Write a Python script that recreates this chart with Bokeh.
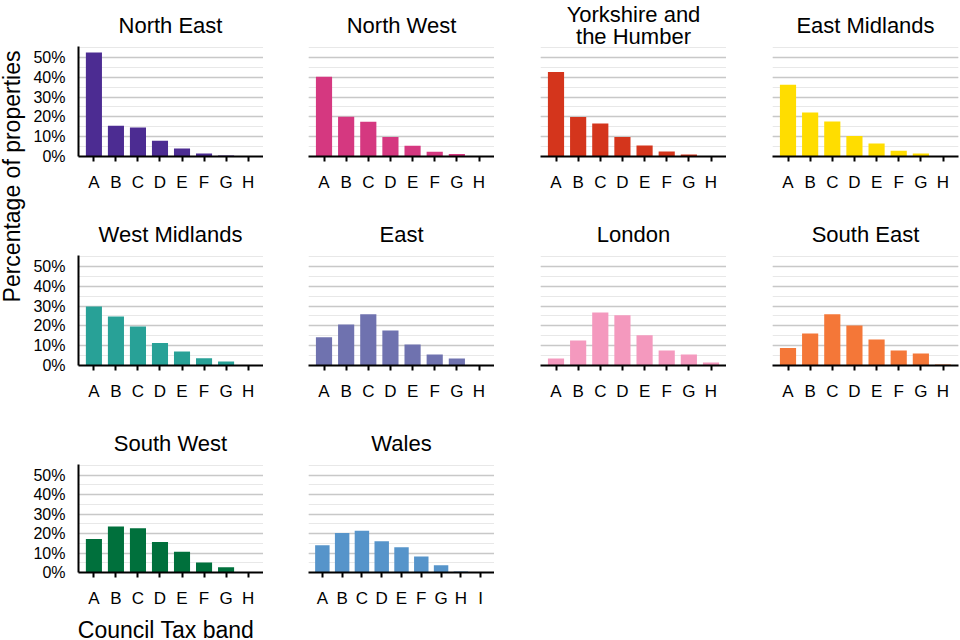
import math
from bokeh.plotting import figure
from bokeh.layouts import row, column
from bokeh.models import (FactorRange, Range1d, SingleIntervalTicker,
                          PrintfTickFormatter, ColumnDataSource)
from bokeh.core.properties import value
from bokeh.embed import file_html
from bokeh.resources import INLINE

# ---------------- data ----------------
bands = ["A", "B", "C", "D", "E", "F", "G", "H"]
bands_wales = ["A", "B", "C", "D", "E", "F", "G", "H", "I"]

region_names = ["North East", "North West", "Yorkshire and\nthe Humber", "East Midlands",
                "West Midlands", "East", "London", "South East",
                "South West", "Wales"]

north_east = [52.5, 15.5, 14.6, 7.9, 4.0, 1.5, 0.5, 0.1]
north_west = [40.2, 20.0, 17.5, 9.9, 5.4, 2.4, 1.3, 0.1]
yorkshire = [42.6, 19.9, 16.7, 9.8, 5.6, 2.5, 1.0, 0.1]
east_midlands = [36.2, 22.2, 17.7, 10.4, 6.6, 2.9, 1.5, 0.1]
west_midlands = [29.8, 24.7, 19.7, 11.3, 7.1, 3.7, 2.0, 0.1]
east = [14.3, 20.7, 25.8, 17.7, 10.6, 5.6, 3.5, 0.2]
london = [3.5, 12.6, 26.8, 25.3, 15.2, 7.6, 5.6, 1.5]
south_east = [8.8, 16.2, 25.8, 20.2, 13.1, 7.6, 6.1, 0.5]
south_west = [17.2, 23.7, 22.7, 15.7, 10.7, 5.2, 2.7, 0.2]
wales = [14.0, 20.3, 21.5, 16.0, 13.0, 8.2, 3.7, 0.5, 0.1]

region_values = [north_east, north_west, yorkshire, east_midlands,
                 west_midlands, east, london, south_east, south_west, wales]
region_bands = [bands] * 9 + [bands_wales]
region_colors = ["#4c2c92", "#d53880", "#d4351c", "#ffdd00",
                 "#28a197", "#6f72af", "#f499be", "#f47738",
                 "#00703c", "#5694ca"]

y_label = "Percentage of properties"
x_label = "Council Tax band"

# ---------------- styling / geometry ----------------
FONT = "Liberation Sans"
FW, FH = 186, 110
STRIP_W = 30
col_left = [47, 45, 46, 46]
col_right = [0, 0, 0, 1]
PANEL_TOP = 0
row_bottom = [53, 53, 36]
TITLE_H = 46
TITLE_Y = 21          # title centre above strip bottom
XLAB_H = 29


def make_panel(k):
    r, c = divmod(k, 4)
    cats = region_bands[k]
    src = ColumnDataSource(dict(band=cats, pct=region_values[k]))
    lb, rb = col_left[c], col_right[c]
    bb = row_bottom[r]
    p = figure(width=lb + FW + rb, height=PANEL_TOP + FH + bb,
               x_range=FactorRange(factors=cats, range_padding=0.2,
                                   range_padding_units="absolute"),
               y_range=Range1d(0, 55.5),
               toolbar_location=None, output_backend="svg",
               min_border_left=lb, min_border_right=rb,
               min_border_top=PANEL_TOP, min_border_bottom=bb,
               outline_line_color=None, background_fill_color="white",
               border_fill_color="white")
    p.vbar(x="band", top="pct", width=0.73, source=src,
           fill_color=region_colors[k], line_color=None)

    ticker = SingleIntervalTicker(interval=10, num_minor_ticks=2)
    p.yaxis.ticker = ticker
    p.ygrid.ticker = ticker
    p.ygrid.grid_line_color = "#c8c8c8"
    p.ygrid.grid_line_width = 1.3
    p.ygrid.minor_grid_line_color = "#e8e8e8"
    p.ygrid.minor_grid_line_width = 1
    p.xgrid.grid_line_color = None

    xa = p.xaxis[0]
    xa.axis_line_color = "black"
    xa.axis_line_width = 2
    xa.major_tick_line_color = "black"
    xa.major_tick_line_width = 2
    xa.major_tick_out = 5
    xa.major_tick_in = 0
    xa.minor_tick_line_color = None
    xa.major_label_standoff = 11
    xa.major_label_text_font = FONT
    xa.major_label_text_font_size = "17px"
    xa.major_label_text_color = "black"

    ya = p.yaxis[0]
    if c == 0:
        ya.axis_line_color = "black"
        ya.axis_line_width = 2
        ya.major_tick_line_color = None
        ya.minor_tick_line_color = None
        ya.major_tick_out = 0
        ya.major_tick_in = 0
        ya.minor_tick_out = 0
        ya.minor_tick_in = 0
        ya.major_label_standoff = 13
        ya.formatter = PrintfTickFormatter(format="%d%%")
        ya.major_label_text_font = FONT
        ya.major_label_text_font_size = "16px"
        ya.major_label_text_color = "black"
    else:
        ya.visible = False
    return p


def text_strip(width, height, xs, ys, texts, size, angle=0.0,
               line_height=1.2):
    s = figure(width=width, height=height, x_range=Range1d(0, width),
               y_range=Range1d(0, height), toolbar_location=None,
               output_backend="svg", min_border=0, outline_line_color=None,
               border_fill_color="white", background_fill_color="white")
    s.axis.visible = False
    s.grid.grid_line_color = None
    s.text(x=xs, y=ys, text=texts, angle=angle, text_align="center",
           text_baseline="middle", text_font=value(FONT),
           text_font_size=value(size), text_color="black",
           text_line_height=line_height)
    return s


panels = [make_panel(k) for k in range(10)]

# frame centres, relative to the start of the panel grid
col_widths = [col_left[i] + FW + col_right[i] for i in range(4)]
centres = []
acc = 0
for i in range(4):
    centres.append(acc + col_left[i] + FW / 2)
    acc += col_widths[i]
grid_w = acc

rows_children = []
for r in range(3):
    ks = list(range(4 * r, min(4 * r + 4, 10)))
    rows_children.append(text_strip(grid_w, TITLE_H,
                                    [centres[k % 4] for k in ks],
                                    [TITLE_Y] * len(ks),
                                    [region_names[k] for k in ks], "22px",
                                    line_height=0.88))
    rows_children.append(row(*[panels[k] for k in ks]))

# x-axis title under the first column
xlab = text_strip(col_widths[0], XLAB_H, [centres[0] - 4.5], [9.5], [x_label],
                  "23px")
rows_children.append(xlab)

total_h = 3 * TITLE_H + sum(PANEL_TOP + FH + b for b in row_bottom) + XLAB_H
ystrip = text_strip(STRIP_W, total_h, [11], [total_h - 176], [y_label],
                    "23px", angle=math.pi / 2)

layout = row(ystrip, column(*rows_children))

open("out.html", "w").write(file_html(layout, INLINE))
